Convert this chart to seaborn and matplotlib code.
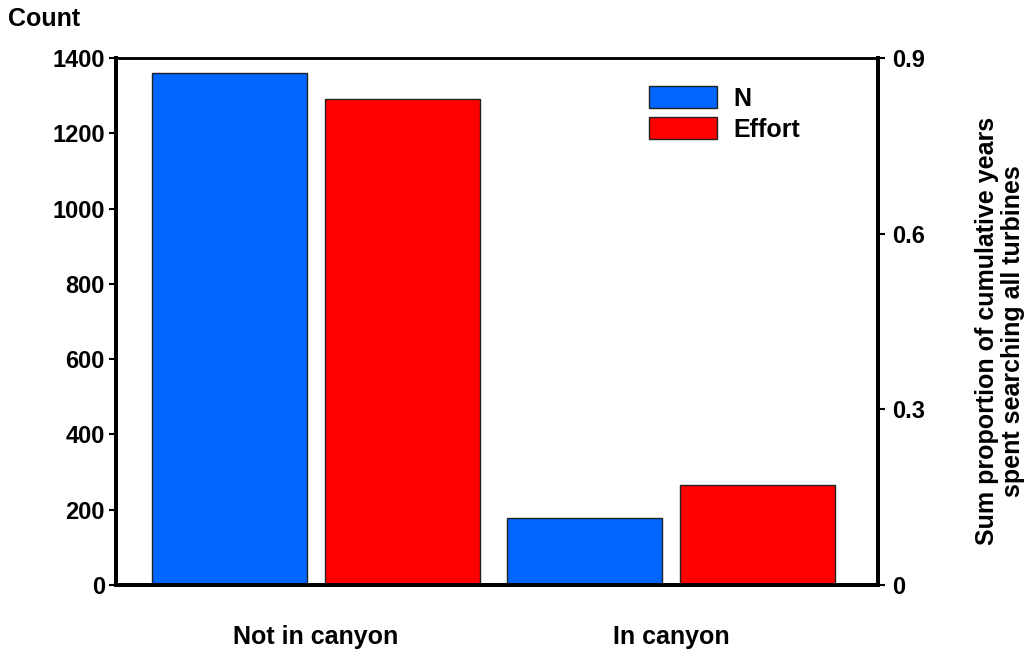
import matplotlib
matplotlib.use("Agg")
import matplotlib.pyplot as plt
from matplotlib.patches import Patch
import seaborn as sns
import pandas as pd

categories = ["Not in canyon", "In canyon"]
series = ["N", "Effort"]
n_values = [1361, 177]
effort_values = [0.830, 0.170]
left_ticks = [0, 200, 400, 600, 800, 1000, 1200, 1400]
right_ticks = [0, 0.3, 0.6, 0.9]
right_tick_labels = ["0", "0.3", "0.6", "0.9"]
colors = {"N": "#0066FF", "Effort": "#FF0000"}

sns.set_theme(style="white")
plt.rcParams["font.family"] = ["Liberation Sans", "DejaVu Sans"]
plt.rcParams["font.weight"] = "bold"
plt.rcParams["text.color"] = "black"
plt.rcParams["axes.labelcolor"] = "black"
plt.rcParams["xtick.color"] = "black"
plt.rcParams["ytick.color"] = "black"

df_n = pd.DataFrame({"cat": categories, "value": n_values, "series": "N"})
df_e = pd.DataFrame({"cat": categories, "value": effort_values, "series": "Effort"})

fig = plt.figure(figsize=(10.32, 6.54), dpi=100)
ax = fig.add_axes([116/1032, 1-585/654, (878-116)/1032, (585-58)/654])
ax2 = ax.twinx()

common = dict(x="cat", y="value", hue="series", hue_order=series, order=categories,
              palette=colors, saturation=1, dodge=True, width=0.97, gap=0.1, errorbar=None,
              edgecolor="#222222", linewidth=1.0, legend=False)
sns.barplot(data=df_n, ax=ax, **common)
sns.barplot(data=df_e, ax=ax2, **common)

ax.set_xlim(-0.563, 1.583)
ax.set_ylim(0, 1400)
ax2.set_ylim(0, 0.9)
ax.set_yticks(left_ticks)
ax.set_yticklabels([str(t) for t in left_ticks], fontsize=17, fontweight="bold")
ax2.set_yticks(right_ticks)
ax2.set_yticklabels(right_tick_labels, fontsize=17, fontweight="bold")
ax.set_xticks(range(len(categories)))
ax.set_xticklabels(categories, fontsize=18, fontweight="bold")
ax.tick_params(axis="x", length=0, pad=29)
ax.tick_params(axis="y", direction="out", length=5, width=1.5, left=True, pad=3)
ax2.tick_params(axis="y", direction="out", length=5, width=1.5, right=True, pad=5)
ax.set_xlabel("")
ax.set_ylabel("")
ax2.set_xlabel("")
ax2.set_ylabel("")

for a in (ax, ax2):
    for name, sp in a.spines.items():
        sp.set_visible(True)
        sp.set_color("black")
        sp.set_linewidth(1.8 if name == "top" else 2.8)

fig.text(8/1032, 1-7/654, "Count", fontsize=18, fontweight="bold", ha="left", va="top")
fig.text(1000/1032, 1-331/654, "Sum proportion of cumulative years\nspent searching all turbines",
         rotation=90, ha="center", va="center", multialignment="center",
         fontsize=18, fontweight="bold", linespacing=1.1)

handles = [Patch(facecolor=colors[s], edgecolor="#222222", linewidth=1.0) for s in series]
fig.legend(handles, series, loc="upper left", bbox_to_anchor=(649/1032, 1-86/654),
           bbox_transform=fig.transFigure, frameon=False,
           prop={"weight": "bold", "size": 18}, handlelength=2.72, handleheight=1.0,
           labelspacing=0.25, handletextpad=0.64, borderpad=0, borderaxespad=0)

fig.savefig("out.png", dpi=100)
